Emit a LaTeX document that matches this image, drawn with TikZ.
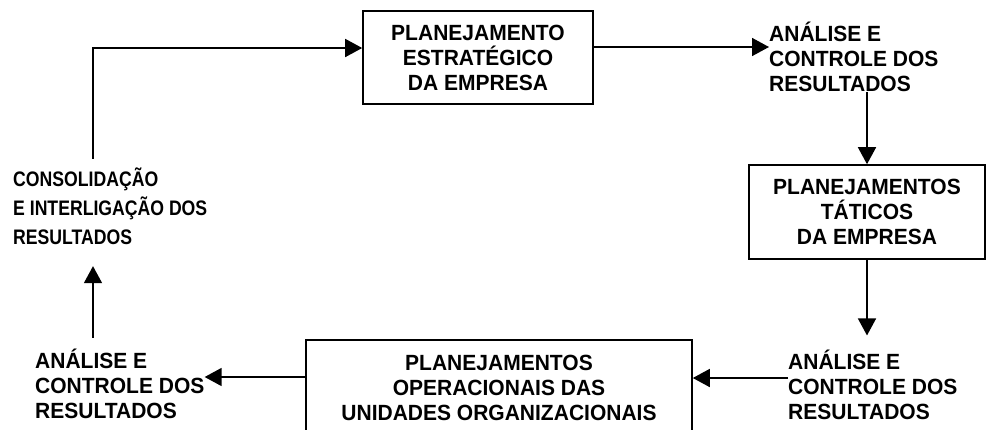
\documentclass[tikz,border=0pt]{standalone}
\usepackage{fontspec}
\setmainfont{Liberation Sans}
\newfontfamily\labfont{Liberation Sans}[FakeStretch=0.955]
\newfontfamily\condfont{Liberation Sans}[FakeStretch=0.84]
\usetikzlibrary{arrows.meta}

\begin{document}
\begin{tikzpicture}[x=1pt,y=-1pt,
  lbl/.style={inner sep=0pt, align=left, anchor=west,
    font=\fontsize{22}{25}\selectfont\labfont\bfseries},
  planbox/.style={draw, line width=1.6pt, inner sep=0pt, align=center,
    font=\fontsize{22}{25}\selectfont\labfont\bfseries},
  arr/.style={line width=1.6pt, -{Triangle[length=17pt,width=18pt]}}]

\clip (0,0) rectangle (988,429);
\fill[white] (0,0) rectangle (988,429);

% planning levels
\node[planbox, minimum width=230pt, minimum height=93pt] (box1) at (478,57.5)
  {PLANEJAMENTO\\ESTRATÉGICO\\DA EMPRESA};
\node[planbox, minimum width=236pt, minimum height=94pt] (box2) at (867,212)
  {PLANEJAMENTOS\\TÁTICOS\\DA EMPRESA};
\node[planbox, minimum width=386pt, minimum height=96pt] (box3) at (499,388)
  {PLANEJAMENTOS\\OPERACIONAIS DAS\\UNIDADES ORGANIZACIONAIS};

% control steps between the levels
\node[lbl] (ctrl1) at (769,57) {ANÁLISE E\\CONTROLE DOS\\RESULTADOS};
\node[lbl] (ctrl2) at (788,384.5) {ANÁLISE E\\CONTROLE DOS\\RESULTADOS};
\node[lbl] (ctrl3) at (35,384) {ANÁLISE E\\CONTROLE DOS\\RESULTADOS};
\node[lbl, font=\fontsize{21}{29}\selectfont\condfont\bfseries] (consol) at (13,206.5)
  {CONSOLIDAÇÃO\\E INTERLIGAÇÃO DOS\\RESULTADOS};

% the cycle
\draw[arr] (box1.east |- 0,47) -- (ctrl1.west |- 0,47);
\draw[arr] (ctrl1.south -| box2.north) -- (box2.north);
\draw[arr, shorten >=14pt] (box2.south) -- (box2.south |- ctrl2.north);
\draw[arr] (ctrl2.west |- 0,378) -- (box3.east |- 0,378);
\draw[arr] (box3.west |- 0,377) -- (ctrl3.east |- 0,377);
\draw[arr, shorten <=11pt, shorten >=21pt] (ctrl3.north -| 93,0) -- (consol.south -| 93,0);
\draw[arr, shorten <=9pt] (consol.north -| 93,0) |- (box1.west |- 0,48);

\end{tikzpicture}
\end{document}
